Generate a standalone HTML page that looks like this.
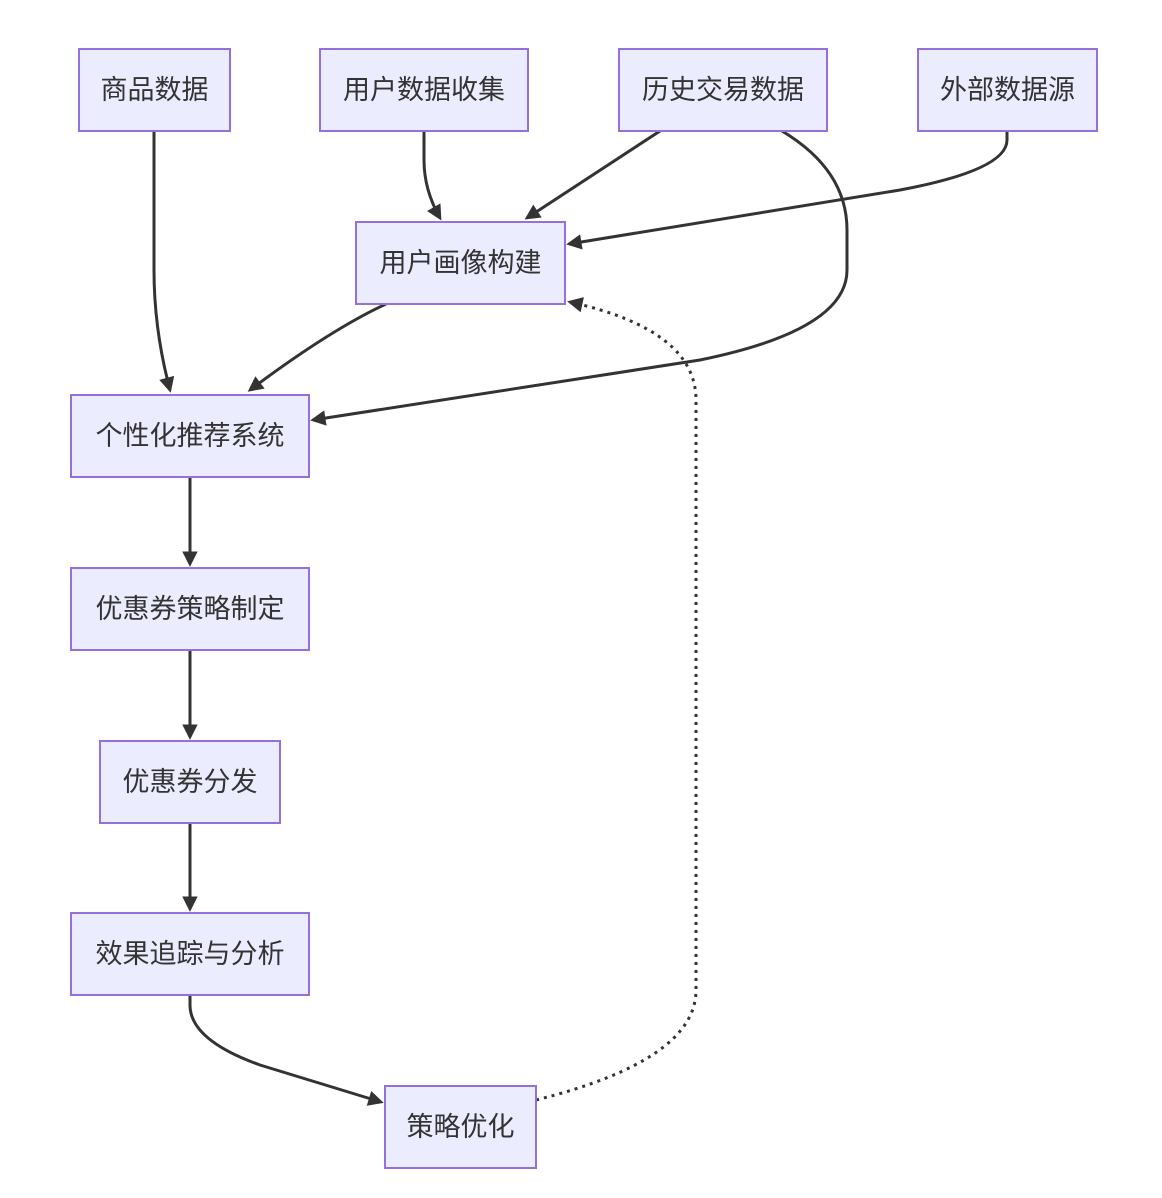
<!DOCTYPE html>
<html><head><meta charset="utf-8"><style>
html,body{margin:0;padding:0;background:#fff;}
svg{display:block;}
text{font-family:"Liberation Sans","Noto Sans CJK SC",sans-serif;font-size:27px;fill:#333;text-anchor:middle;dominant-baseline:central;}
.n{fill:#ECECFF;stroke:#9370DB;stroke-width:2;}
.e{fill:none;stroke:#333;stroke-width:3;}
</style></head><body>
<svg width="1162" height="1198" viewBox="0 0 1162 1198">
<defs><marker id="a" viewBox="0 0 10 10" refX="8" refY="5" markerWidth="7" markerHeight="7" markerUnits="userSpaceOnUse" orient="auto" style="overflow:visible"><path d="M0,0 L10,5 L0,10 z" fill="#333" transform="scale(2.2) translate(-4.5,-2.7)"/></marker></defs>
<g>
<path class="e" d="M154,131 L154,270 Q154,330 170,390" marker-end="url(#a)"/>
<path class="e" d="M424,131 L424,160 Q424,190 440,218" marker-end="url(#a)"/>
<path class="e" d="M660,131 L527,218" marker-end="url(#a)"/>
<path class="e" d="M1007,131 L1007,140 Q1007,170 900,190 L569,244" marker-end="url(#a)"/>
<path class="e" d="M782,131 Q847,170 847,230 L847,270 Q847,330 700,360 L313,420" marker-end="url(#a)"/>
<path class="e" d="M386,304 Q330,330 250,390" marker-end="url(#a)"/>
<path class="e" d="M190,477 L190,564" marker-end="url(#a)"/>
<path class="e" d="M190,650 L190,737" marker-end="url(#a)"/>
<path class="e" d="M190,823 L190,909" marker-end="url(#a)"/>
<path class="e" d="M190,995 L190,1005 Q190,1040 260,1065 L381,1102" marker-end="url(#a)"/>
<path class="e" d="M536,1100 Q696,1060 696,990 L696,400 Q696,330 570,302" stroke-dasharray="3,5" marker-end="url(#a)"/>
</g>
<rect class="n" x="79" y="49" width="151" height="82"/><text x="154.5" y="90">商品数据</text>
<rect class="n" x="320" y="49" width="208" height="82"/><text x="424" y="90">用户数据收集</text>
<rect class="n" x="619" y="49" width="208" height="82"/><text x="723" y="90">历史交易数据</text>
<rect class="n" x="918" y="49" width="179" height="82"/><text x="1007.5" y="90">外部数据源</text>
<rect class="n" x="356" y="222" width="209" height="82"/><text x="460.5" y="263">用户画像构建</text>
<rect class="n" x="71" y="395" width="238" height="82"/><text x="190" y="436">个性化推荐系统</text>
<rect class="n" x="71" y="568" width="238" height="82"/><text x="190" y="609">优惠券策略制定</text>
<rect class="n" x="100" y="741" width="180" height="82"/><text x="190" y="782">优惠券分发</text>
<rect class="n" x="71" y="913" width="238" height="82"/><text x="190" y="954">效果追踪与分析</text>
<rect class="n" x="385" y="1086" width="151" height="82"/><text x="460.5" y="1127">策略优化</text>
</svg>
</body></html>
